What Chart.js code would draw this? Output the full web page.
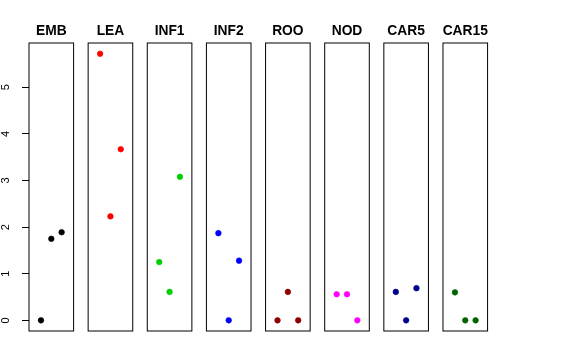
<!DOCTYPE html>
<html>
<head>
<meta charset="utf-8">
<script src="https://cdn.jsdelivr.net/npm/chart.js@4/dist/chart.umd.min.js"></script>
<style>
  html, body { margin: 0; padding: 0; background: #ffffff; }
  #wrap { position: relative; width: 576px; height: 360px; overflow: hidden; background: #ffffff; }
  #wrap canvas { position: absolute; top: 0; }
</style>
</head>
<body>
<div id="wrap"></div>
<script>
// ---- data ----
const categories = ['EMB', 'LEA', 'INF1', 'INF2', 'ROO', 'NOD', 'CAR5', 'CAR15'];
const xPositions = [1, 2, 3];
const EMB   = [0.00, 1.75, 1.89];
const LEA   = [5.72, 2.23, 3.67];
const INF1  = [1.25, 0.61, 3.08];
const INF2  = [1.87, 0.00, 1.28];
const ROO   = [0.00, 0.61, 0.00];
const NOD   = [0.56, 0.56, 0.00];
const CAR5  = [0.61, 0.00, 0.69];
const CAR15 = [0.60, 0.00, 0.00];
const yTickValues = [0, 1, 2, 3, 4, 5];

const seriesList = [EMB, LEA, INF1, INF2, ROO, NOD, CAR5, CAR15];
const colors = ['#000000', '#FF0000', '#00CD00', '#0000FF', '#8B0000', '#FF00FF', '#00008B', '#006400'];

// ---- layout ----
const FONT = '"Liberation Sans", Arial, Helvetica, sans-serif';
const PLOT_TOP = 43, PLOT_BOTTOM = 331, CANVAS_H = 360;
const FIRST_LEFT = 29, STEP = 59.14, PANEL_W = 44.6;
const Y_MIN = -0.229, Y_MAX = 5.95;
const X_MIN = -0.16, X_MAX = 4.16;
const MARGIN = 10;

const framePlugin = {
  id: 'panelFrame',
  afterDraw(chart, args, opts) {
    const a = chart.chartArea;
    const ctx = chart.ctx;
    ctx.save();
    ctx.strokeStyle = '#000000';
    ctx.lineWidth = 1;
    ctx.strokeRect(a.left, a.top, a.right - a.left, a.bottom - a.top);
    ctx.fillStyle = '#000000';
    ctx.font = 'bold 13.8px ' + FONT;
    ctx.textAlign = 'center';
    ctx.textBaseline = 'alphabetic';
    ctx.fillText(opts.title, (a.left + a.right) / 2, a.top - 8.5);
    ctx.restore();
  }
};

const wrap = document.getElementById('wrap');

categories.forEach((cat, i) => {
  const boxLeft = FIRST_LEFT + STEP * i;
  const withAxis = i === 0;
  const cLeft = withAxis ? 0 : Math.floor(boxLeft) - MARGIN;
  const cRight = Math.ceil(boxLeft + PANEL_W) + MARGIN;
  const cW = cRight - cLeft;
  const canvas = document.createElement('canvas');
  canvas.width = cW; canvas.height = CANVAS_H;
  canvas.style.width = cW + 'px'; canvas.style.height = CANVAS_H + 'px';
  canvas.style.left = cLeft + 'px';
  wrap.appendChild(canvas);

  const padLeft = withAxis ? 0 : boxLeft - cLeft;
  const padRight = cW - (boxLeft - cLeft) - PANEL_W;

  const yScale = {
    type: 'linear', min: Y_MIN, max: Y_MAX,
    display: withAxis,
    position: 'left',
    afterBuildTicks: (scale) => { scale.ticks = yTickValues.map(v => ({ value: v })); },
    border: { display: false },
    grid: { display: true, drawOnChartArea: false, drawTicks: true, tickLength: 7, color: '#000000', lineWidth: 1 },
    ticks: {
      display: true,
      minRotation: 90, maxRotation: 90,
      crossAlign: 'center',
      padding: 12.5,
      color: '#000000',
      font: { family: FONT, size: 11 },
      callback: (v) => String(v)
    }
  };
  if (withAxis) {
    yScale.afterFit = (scale) => { scale.width = FIRST_LEFT; };
  }

  new Chart(canvas, {
    type: 'scatter',
    data: {
      datasets: [{
        label: cat,
        data: xPositions.map((x, k) => ({ x: x, y: seriesList[i][k] })),
        backgroundColor: colors[i],
        borderColor: colors[i],
        borderWidth: 0.6,
        pointRadius: 2.8,
        pointHoverRadius: 2.8
      }]
    },
    options: {
      responsive: false,
      animation: false,
      events: [],
      layout: {
        autoPadding: false,
        padding: { top: PLOT_TOP, bottom: CANVAS_H - PLOT_BOTTOM, left: padLeft, right: padRight }
      },
      plugins: {
        legend: { display: false },
        title: { display: false },
        tooltip: { enabled: false },
        panelFrame: { title: cat }
      },
      scales: {
        x: { type: 'linear', min: X_MIN, max: X_MAX, display: false },
        y: yScale
      }
    },
    plugins: [framePlugin]
  });
});
</script>
</body>
</html>
